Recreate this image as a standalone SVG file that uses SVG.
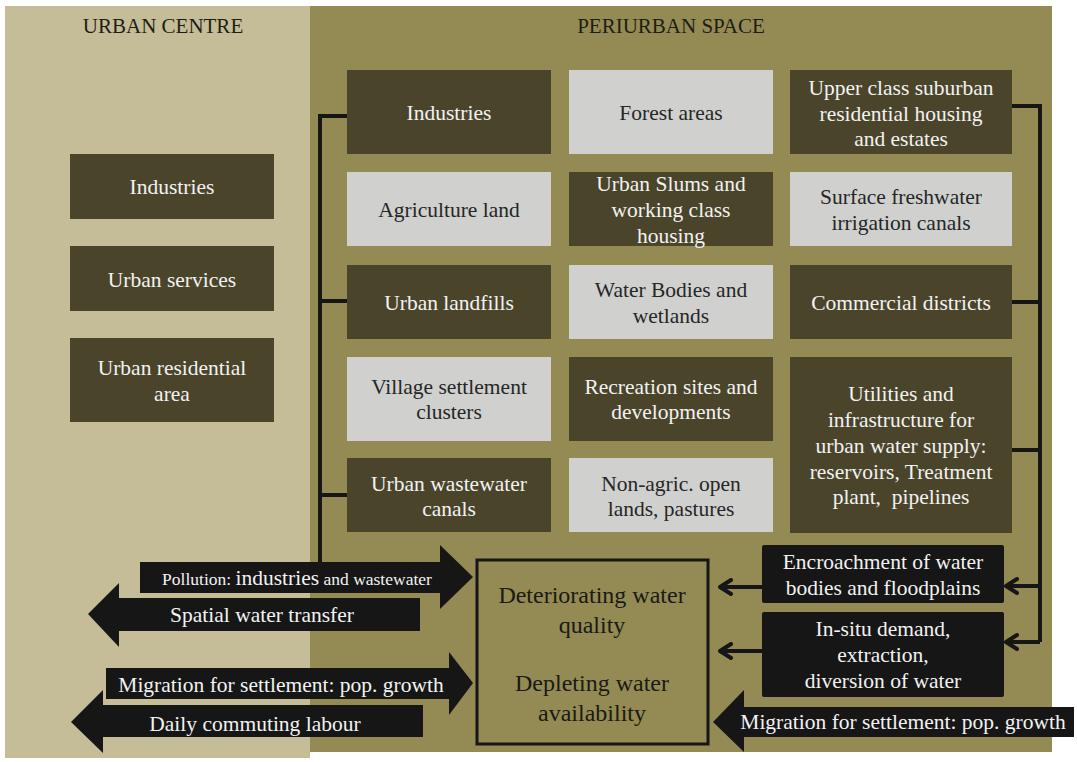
<svg xmlns="http://www.w3.org/2000/svg" width="1077" height="762" viewBox="0 0 1077 762">
<style>
text{font-family:"Liberation Serif","Times New Roman",serif;font-size:21.5px;text-anchor:middle}
.dk{fill:#4A452A}
.lt{fill:#D0D1CF}
.wt{fill:#F2F2F2}
.bt{fill:#262626}
.blk{fill:#161616}
.conn{fill:none;stroke:#161616;stroke-width:4}
.title{fill:#1E1E14;font-size:21px}
.core{fill:#1A1A12;font-size:24px}
</style>
<defs>
<marker id="chev" viewBox="0 0 16 18" refX="13" refY="9" markerWidth="16" markerHeight="18" orient="auto" markerUnits="userSpaceOnUse">
<path d="M2,2 L13,9 L2,16" fill="none" stroke="#161616" stroke-width="4" stroke-linecap="round" stroke-linejoin="round"/>
</marker>
</defs>
<rect x="0" y="0" width="1077" height="762" fill="#FFFFFF"/>
<rect x="5" y="6" width="305" height="752" fill="#C4BD97"/>
<rect x="310" y="6" width="742" height="746" fill="#948A54"/>
<text class="title" x="163" y="33">URBAN CENTRE</text>
<text class="title" x="671" y="33">PERIURBAN SPACE</text>

<g id="connectors">
<path class="conn" d="M347,116 H320 V562"/>
<path class="conn" d="M320,301 H347"/>
<path class="conn" d="M320,495 H347"/>
<path class="conn" d="M1012,106 H1040 V642"/>
<path class="conn" d="M1012,302 H1040"/>
<path class="conn" d="M1012,450 H1040"/>
<path class="conn" d="M1040,586 H1006" marker-end="url(#chev)"/>
<path class="conn" d="M1040,642 H1006" marker-end="url(#chev)"/>
<path class="conn" d="M762,587 H720" marker-end="url(#chev)"/>
<path class="conn" d="M762,651 H720" marker-end="url(#chev)"/>
<polygon class="blk" points="140,562 440,562 440,545 473,577 440,609 440,593 140,593"/>
<polygon class="blk" points="420,598 119,598 119,583 88,614 119,647 119,631 420,631"/>
<polygon class="blk" points="106,668 449,668 449,652 473,683 449,715 449,699 106,699"/>
<polygon class="blk" points="423,705 103,705 103,690 71,722 103,753 103,737 423,737"/>
<polygon class="blk" points="1074,707 744,707 744,690 713,722 744,752 744,737 1074,737"/>
<text class="wt" x="297" y="585"><tspan font-size="17.5">Pollution: </tspan>industries<tspan font-size="17.5"> and wastewater</tspan></text>
<text class="wt" x="262" y="622">Spatial water transfer</text>
<text class="wt" x="281" y="692">Migration for settlement: pop. growth</text>
<text class="wt" x="255" y="731">Daily commuting labour</text>
<text class="wt" x="903" y="729">Migration for settlement: pop. growth</text>
</g>

<g id="uc-industries"><rect class="dk" x="70" y="154" width="204" height="65"/><text class="wt" x="172" y="194">Industries</text></g>
<g id="uc-services"><rect class="dk" x="70" y="246" width="204" height="65"/><text class="wt" x="172" y="287">Urban services</text></g>
<g id="uc-residential"><rect class="dk" x="70" y="338" width="204" height="84"/><text class="wt" x="172" y="375">Urban residential</text><text class="wt" x="172" y="401">area</text></g>

<g id="p-industries"><rect class="dk" x="347" y="70" width="204" height="84"/><text class="wt" x="449" y="120">Industries</text></g>
<g id="p-forest"><rect class="lt" x="569" y="70" width="204" height="84"/><text class="bt" x="671" y="120">Forest areas</text></g>
<g id="p-upper"><rect class="dk" x="790" y="70" width="222" height="84"/><text class="wt" x="901" y="95">Upper class suburban</text><text class="wt" x="901" y="120.5">residential housing</text><text class="wt" x="901" y="146">and estates</text></g>

<g id="p-agri"><rect class="lt" x="347" y="172" width="204" height="74"/><text class="bt" x="449" y="217">Agriculture land</text></g>
<g id="p-slums"><rect class="dk" x="569" y="172" width="204" height="74"/><text class="wt" x="671" y="191">Urban Slums and</text><text class="wt" x="671" y="217">working class</text><text class="wt" x="671" y="243">housing</text></g>
<g id="p-surface"><rect class="lt" x="790" y="172" width="222" height="74"/><text class="bt" x="901" y="204">Surface freshwater</text><text class="bt" x="901" y="229.5">irrigation canals</text></g>

<g id="p-landfills"><rect class="dk" x="347" y="265" width="204" height="74"/><text class="wt" x="449" y="310">Urban landfills</text></g>
<g id="p-water"><rect class="lt" x="569" y="265" width="204" height="74"/><text class="bt" x="671" y="297">Water Bodies and</text><text class="bt" x="671" y="323">wetlands</text></g>
<g id="p-commercial"><rect class="dk" x="790" y="265" width="222" height="74"/><text class="wt" x="901" y="310">Commercial districts</text></g>

<g id="p-village"><rect class="lt" x="347" y="357" width="204" height="84"/><text class="bt" x="449" y="394">Village settlement</text><text class="bt" x="449" y="419">clusters</text></g>
<g id="p-recreation"><rect class="dk" x="569" y="357" width="204" height="84"/><text class="wt" x="671" y="394">Recreation sites and</text><text class="wt" x="671" y="419">developments</text></g>
<g id="p-utilities"><rect class="dk" x="790" y="357" width="222" height="176"/><text class="wt" x="901" y="401">Utilities and</text><text class="wt" x="901" y="427">infrastructure for</text><text class="wt" x="901" y="453">urban water supply:</text><text class="wt" x="901" y="479">reservoirs, Treatment</text><text class="wt" x="901" y="504">plant,&#160; pipelines</text></g>

<g id="p-wastewater"><rect class="dk" x="347" y="458" width="204" height="74"/><text class="wt" x="449" y="491">Urban wastewater</text><text class="wt" x="449" y="516">canals</text></g>
<g id="p-nonagric"><rect class="lt" x="569" y="458" width="204" height="74"/><text class="bt" x="671" y="491">Non-agric. open</text><text class="bt" x="671" y="516">lands, pastures</text></g>

<g id="encroachment"><rect class="blk" x="762" y="545" width="242" height="58" rx="2"/><text class="wt" x="883" y="569">Encroachment of water</text><text class="wt" x="883" y="595">bodies and floodplains</text></g>
<g id="insitu"><rect class="blk" x="762" y="612" width="242" height="85" rx="2"/><text class="wt" x="883" y="636">In-situ demand,</text><text class="wt" x="883" y="662">extraction,</text><text class="wt" x="883" y="688">diversion of water</text></g>

<g id="core"><rect x="477" y="560" width="231" height="184" fill="none" stroke="#161616" stroke-width="3"/>
<text class="core" x="592" y="603">Deteriorating water</text><text class="core" x="592" y="633">quality</text>
<text class="core" x="592" y="691">Depleting water</text><text class="core" x="592" y="721">availability</text></g>
</svg>
